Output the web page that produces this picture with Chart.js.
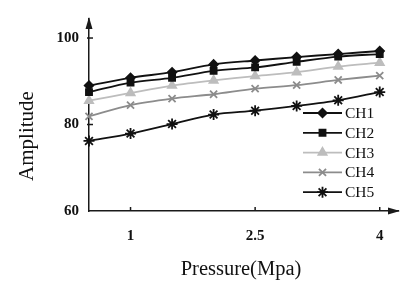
<!DOCTYPE html>
<html><head><meta charset="utf-8">
<script src="https://cdn.jsdelivr.net/npm/chart.js@4.4.1/dist/chart.umd.min.js"></script>
<style>html,body{margin:0;padding:0;background:#fff;} #wrap{width:413px;height:289px;}</style>
</head><body><div id="wrap"><canvas id="c" width="413" height="289"></canvas></div>
<script>
const pressure = [0.5, 1, 1.5, 2, 2.5, 3, 3.5, 4];
const ch1 = [89.0, 90.8, 92.1, 93.9, 94.8, 95.6, 96.3, 97.0];
const ch2 = [87.5, 89.7, 90.8, 92.4, 93.2, 94.5, 95.7, 96.3];
const ch3 = [85.5, 87.3, 89.0, 90.2, 91.2, 92.1, 93.4, 94.3];
const ch4 = [81.9, 84.5, 86.0, 87.0, 88.3, 89.1, 90.3, 91.3];
const ch5 = [76.2, 77.9, 80.1, 82.3, 83.2, 84.3, 85.6, 87.5];
const seriesNames = ['CH1', 'CH2', 'CH3', 'CH4', 'CH5'];
const xTicks = [1, 2.5, 4];
const yTicks = [60, 80, 100];
const xTitle = 'Pressure(Mpa)';
const yTitle = 'Amplitude';

const styles = [
  {color: '#111', style: 'rectRot', r: 4.5, bw: 1.5},
  {color: '#111', style: 'rect', r: 4.5, bw: 1.5},
  {color: '#bdbdbd', style: 'triangle', r: 5, bw: 1.5},
  {color: '#8c8c8c', style: 'crossRot', r: 5, bw: 1.8},
  {color: '#111', style: 'star', r: 5.5, bw: 1.8}
];
const allSeries = [ch1, ch2, ch3, ch4, ch5];
const datasets = allSeries.map((s, i) => ({
  label: seriesNames[i],
  data: pressure.map((p, j) => ({x: p, y: s[j]})),
  borderColor: styles[i].color,
  backgroundColor: styles[i].color,
  pointStyle: styles[i].style,
  pointRadius: styles[i].r,
  pointBorderWidth: styles[i].bw,
  borderWidth: 1.8,
  tension: 0.3,
  clip: false
}));

const serif = '"Liberation Serif", "DejaVu Serif", serif';

const decor = {
  id: 'decor',
  afterDraw(chart) {
    const ctx = chart.ctx;
    const {left, right, top, bottom} = chart.chartArea;
    const xs = chart.scales.x, ys = chart.scales.y;
    ctx.save();
    ctx.strokeStyle = '#1a1a1a';
    ctx.fillStyle = '#1a1a1a';
    ctx.lineWidth = 1.5;
    xTicks.forEach(v => {
      const px = xs.getPixelForValue(v);
      ctx.beginPath(); ctx.moveTo(px, bottom); ctx.lineTo(px, bottom - 4); ctx.stroke();
    });
    yTicks.forEach(v => {
      if (v === ys.min) return;
      const py = ys.getPixelForValue(v);
      ctx.beginPath(); ctx.moveTo(left - 2, py); ctx.lineTo(left + 4, py); ctx.stroke();
    });
    ctx.beginPath();
    ctx.moveTo(left, top - 2); ctx.lineTo(left - 3.5, top + 10); ctx.lineTo(left + 3.5, top + 10); ctx.closePath(); ctx.fill();
    ctx.beginPath();
    ctx.moveTo(right + 2, bottom); ctx.lineTo(right - 10, bottom - 3.5); ctx.lineTo(right - 10, bottom + 3.5); ctx.closePath(); ctx.fill();
    ctx.fillStyle = '#111';
    ctx.font = '20.5px ' + serif;
    ctx.textAlign = 'center'; ctx.textBaseline = 'middle';
    ctx.fillText(xTitle, 241, 270);
    ctx.save();
    ctx.translate(27, 136);
    ctx.rotate(-Math.PI / 2);
    ctx.font = '21px ' + serif;
    ctx.fillText(yTitle, 0, 0);
    ctx.restore();
    const lx0 = right - 95, lx1 = right - 56, ly0 = 113, step = 19.8;
    ctx.font = '15.5px ' + serif;
    ctx.textAlign = 'left';
    chart.data.datasets.forEach((ds, i) => {
      const y = ly0 + i * step;
      ctx.strokeStyle = ds.borderColor; ctx.lineWidth = 1.8;
      ctx.beginPath(); ctx.moveTo(lx0, y); ctx.lineTo(lx1, y); ctx.stroke();
      ctx.fillStyle = ds.backgroundColor;
      ctx.lineWidth = ds.pointBorderWidth;
      Chart.helpers.drawPoint(ctx, {pointStyle: ds.pointStyle, radius: ds.pointRadius, rotation: 0, borderWidth: ds.pointBorderWidth}, (lx0 + lx1) / 2, y);
      ctx.fillStyle = '#111';
      ctx.fillText(ds.label, lx1 + 3, y + 1);
    });
    ctx.restore();
  }
};

new Chart(document.getElementById('c'), {
  type: 'line',
  data: {datasets},
  options: {
    responsive: false,
    animation: false,
    layout: {padding: {left: 0, top: 8, right: 15, bottom: 0}},
    plugins: {legend: {display: false}, tooltip: {enabled: false}},
    scales: {
      x: {
        type: 'linear', min: 0.5, max: 4.22,
        afterBuildTicks: s => { s.ticks = xTicks.map(v => ({value: v})); },
        afterFit: s => { s.height = 78; },
        grid: {display: false, drawTicks: false},
        border: {display: true, color: '#1a1a1a', width: 1.5},
        ticks: {padding: 16, color: '#111', font: {family: serif, size: 15, weight: 'bold'}, callback: v => String(v)}
      },
      y: {
        type: 'linear', min: 60, max: 104.4,
        afterBuildTicks: s => { s.ticks = yTicks.map(v => ({value: v})); },
        afterFit: s => { s.width = 89; },
        grid: {display: false, drawTicks: false},
        border: {display: true, color: '#1a1a1a', width: 1.5},
        ticks: {padding: 10, color: '#111', font: {family: serif, size: 15, weight: 'bold'}}
      }
    }
  },
  plugins: [decor]
});
</script>
</body></html>
